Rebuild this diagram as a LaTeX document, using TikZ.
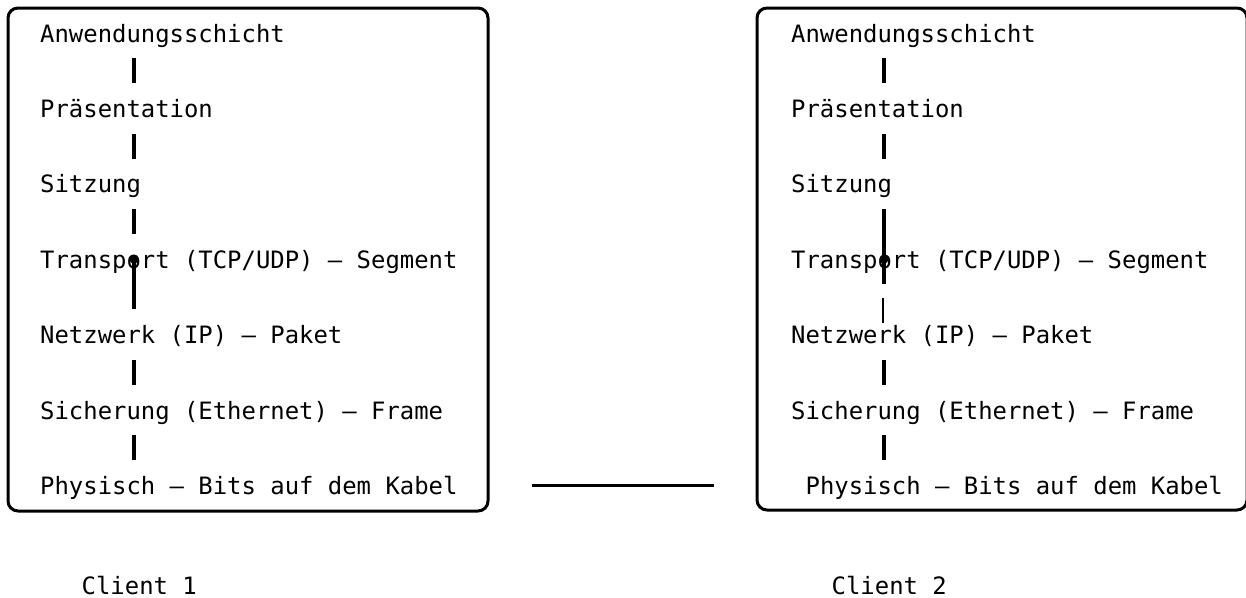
\documentclass[tikz,border=0pt]{standalone}
\usepackage{fontspec}
\setmonofont{DejaVu Sans Mono}
\usepackage{tikz}
\newcommand{\layerfont}{\ttfamily\fontsize{23.9pt}{28pt}\selectfont}

\tikzset{
    layer/.style={font=\layerfont, anchor=west, inner sep=0pt, text height=23.5pt, text depth=5.5pt, minimum height=50pt},
    stack/.style={draw, line width=3pt, rounded corners=10pt},
    link/.style={line width=3.5pt},
    tag/.style={font=\layerfont, anchor=base west, inner sep=0pt}
}

\begin{document}
\begin{tikzpicture}[x=1pt, y=-1pt]
                \useasboundingbox (0,0) rectangle (1246,597);
                \node[stack, minimum width=480pt, minimum height=503pt] (box1) at (248,259.5) {};
                \node[stack, minimum width=490pt, minimum height=502pt] (box2) at (1002,259) {};
                \coordinate (lcol) at (134,0);
                \coordinate (rcol) at (884,0);
                \foreach \txt [count=\i] in {Anwendungsschicht, Präsentation, Sitzung, Transport (TCP/UDP) — Segment, Netzwerk (IP) — Paket, Sicherung (Ethernet) — Frame, Physisch — Bits auf dem Kabel} {
                    \node[layer] (l\i) at (40, {33+75.4*(\i-1)}) {\txt};
                    \node[layer] (r\i) at ({\i==7 ? 805.4 : 791}, {33+75.4*(\i-1)}) {\txt};
                }
                \foreach \a/\b in {1/2, 2/3, 3/4, 5/6, 6/7}
                    \draw[link] (l\a.south -| lcol) -- (l\b.north -| lcol);
                \fill (l4 -| lcol) circle (4.5pt);
                \draw[link] (l4 -| lcol) -- (l5.north -| lcol);
                \foreach \a/\b in {1/2, 2/3, 5/6, 6/7}
                    \draw[link] (r\a.south -| rcol) -- (r\b.north -| rcol);
                \draw[link] (r3.south -| rcol) -- (r4.south -| rcol);
                \fill (r4 -| rcol) circle (4.5pt);
                \draw[line width=1.2pt, shorten <=14pt, shorten >=12pt] ([xshift=-1pt]r4.south -| rcol) -- ([xshift=-1pt]r5 -| rcol);
                \draw[line width=3pt, shorten <=42pt, shorten >=42pt] (l7 -| box1.east) -- (r7 -| box2.west);
                \node[tag] (client1) at (81.5,594) {Client 1};
                \node[tag] (client2) at (831.5,594) {Client 2};
\end{tikzpicture}
\end{document}
